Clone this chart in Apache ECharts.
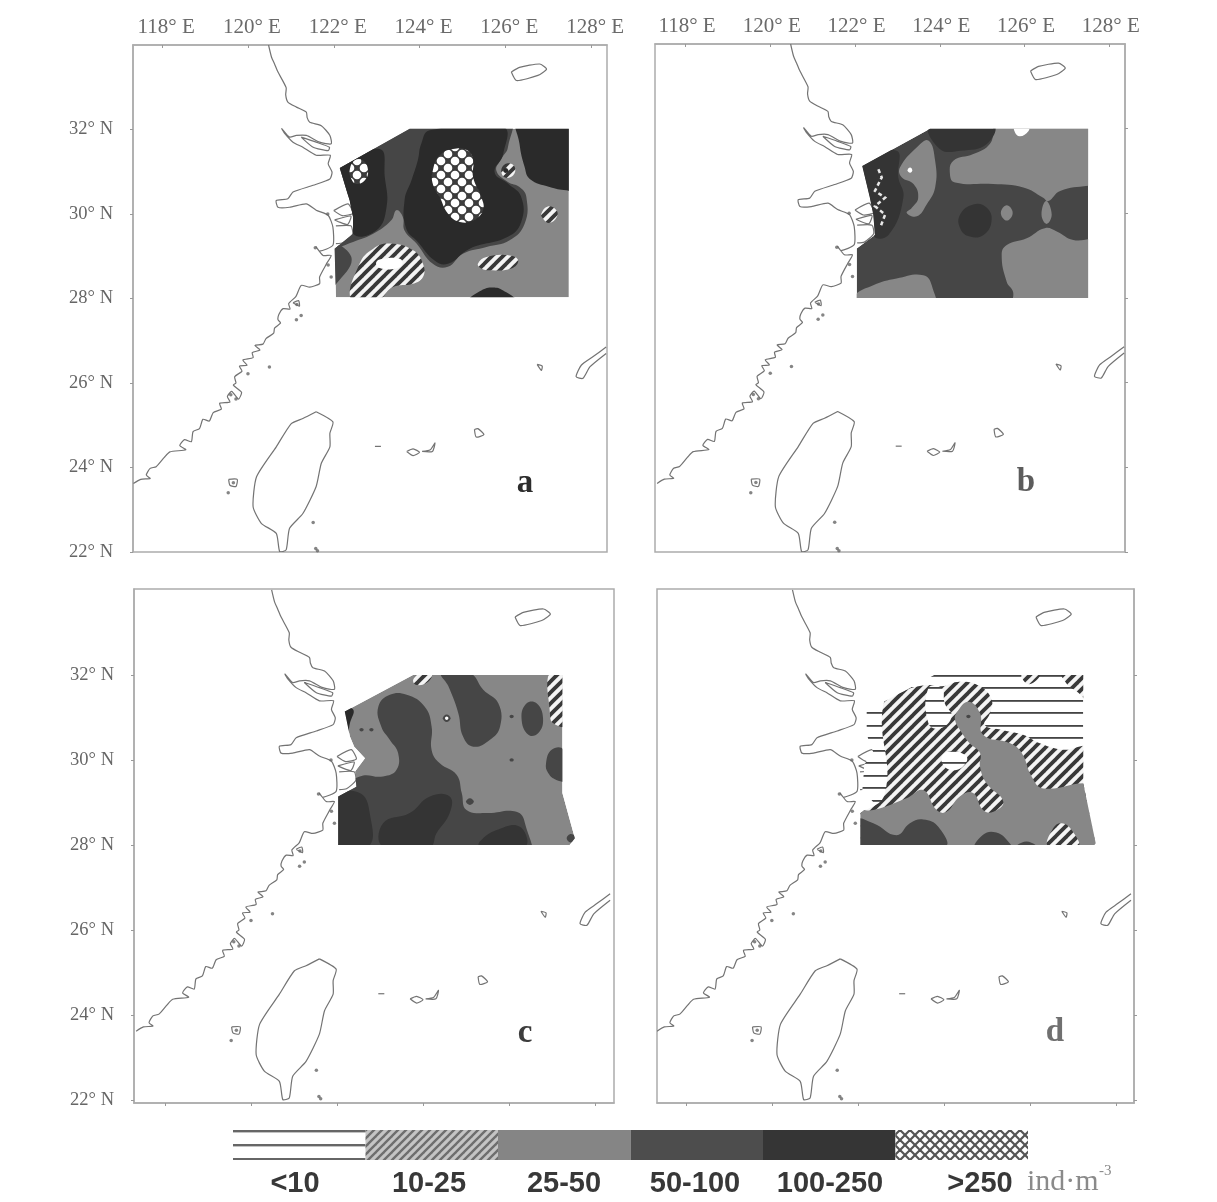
<!DOCTYPE html>
<html><head><meta charset="utf-8">
<style>html,body{margin:0;padding:0;background:#fff}#c{width:1217px;height:1202px;filter:blur(0.65px)}</style>
<script src="https://cdn.jsdelivr.net/npm/echarts@6/dist/echarts.min.js"></script>
</head><body><div id="c"></div>
<script>
// ---------- tick labels and legend ----------
const lonTicks=[118,120,122,124,126,128];
const latTicks=[22,24,26,28,30,32];
const bandNames=['<10','10-25','25-50','50-100','100-250','>250'];

// ---------- geography (lon, lat) ----------
const coastMain=[[120.48,34.0],[120.55,33.71],[120.62,33.55],[120.70,33.36],[120.89,32.99],[120.88,32.82],[120.93,32.65],[121.13,32.53],[121.36,32.41],[121.38,32.28],[121.44,32.17],[121.71,32.09],[121.91,31.86],[121.94,31.66],[121.67,31.70],[121.36,31.86],[121.13,31.86],[120.97,31.82],[120.79,32.02],[120.86,31.90],[121.05,31.70],[121.28,31.58],[121.59,31.39],[121.92,31.39],[121.87,31.19],[121.96,30.99],[121.91,30.83],[121.52,30.68],[121.05,30.52],[120.93,30.36],[120.66,30.32],[120.70,30.16],[120.97,30.16],[121.36,30.24],[121.59,30.09],[121.87,29.97],[121.98,29.69],[121.98,29.26],[121.67,29.12],[121.59,29.22],[121.75,29.02],[121.94,29.02],[121.83,28.82],[121.67,28.51],[121.67,28.35],[121.44,28.27],[121.24,28.31],[121.12,28.05],[120.95,27.88],[120.98,27.75],[120.82,27.76],[120.72,27.62],[120.70,27.50],[120.76,27.42],[120.62,27.30],[120.60,27.18],[120.42,27.05],[120.35,26.92],[120.16,26.89],[120.28,26.78],[120.10,26.72],[120.12,26.60],[119.88,26.54],[119.98,26.42],[119.80,26.40],[119.86,26.28],[119.69,26.15],[119.72,26.0],[119.66,25.95],[119.85,25.78],[119.78,25.62],[119.62,25.80],[119.52,25.68],[119.58,25.55],[119.34,25.52],[119.38,25.38],[119.19,25.30],[119.10,25.10],[118.95,25.14],[118.87,24.92],[118.72,24.85],[118.68,24.61],[118.52,24.66],[118.41,24.52],[118.55,24.42],[118.18,24.37],[118.05,24.24],[117.86,24.02],[117.72,23.98],[117.63,23.82],[117.72,23.74],[117.50,23.72],[117.33,23.62]];
const chongming=[[121.24,31.82],[121.59,31.70],[121.90,31.58],[121.87,31.50],[121.52,31.58],[121.24,31.82]];
const zhoushan1=[[122.0,30.08],[122.33,30.24],[122.45,30.02],[122.2,29.96],[122.0,30.08]];
const zhoushan2=[[122.02,29.86],[122.4,29.95],[122.32,29.75],[122.02,29.86]];
const zhoushan3=[[122.05,29.72],[122.4,29.72],[122.44,29.52],[122.22,29.32],[122.05,29.3]];
const taiwan=[[121.59,25.32],[121.98,25.08],[121.91,24.81],[121.91,24.49],[121.71,24.10],[121.59,23.55],[121.28,22.91],[120.97,22.56],[120.89,22.05],[120.74,22.01],[120.66,22.44],[120.31,22.68],[120.12,23.07],[120.20,23.78],[120.66,24.49],[121.01,25.04],[121.28,25.16],[121.59,25.32]];
const jeju=[[126.14,33.36],[126.33,33.47],[126.80,33.55],[126.96,33.43],[126.76,33.28],[126.26,33.16],[126.14,33.36]];
const okinawa=[[128.35,26.85],[128.04,26.62],[127.77,26.42],[127.65,26.15],[127.81,26.11],[127.97,26.38],[128.35,26.70]];
const isletA=[[126.74,26.44],[126.86,26.40],[126.84,26.30],[126.74,26.44]];
const isletB=[[123.70,24.38],[123.85,24.44],[124.00,24.36],[123.85,24.28],[123.70,24.38]];
const isletC=[[124.06,24.38],[124.25,24.42],[124.36,24.58],[124.30,24.38],[124.06,24.38]];
const isletD=[[125.28,24.90],[125.36,24.92],[125.50,24.78],[125.32,24.72],[125.28,24.90]];
const isletE=[[122.96,24.50],[123.10,24.50]];
const isletF=[[119.55,23.72],[119.75,23.72],[119.72,23.55],[119.58,23.58],[119.55,23.72]];
const isletL=[[121.05,27.90],[121.18,27.95],[121.20,27.82],[121.05,27.90]];
const coastLines=[coastMain,chongming,zhoushan1,zhoushan2,zhoushan3,taiwan,jeju,okinawa,isletA,isletB,isletC,isletD,isletE,isletF,isletL];
const coastDots=[[121.87,28.79],[121.94,28.51],[121.24,27.60],[121.13,27.50],[121.14,27.86],[120.50,26.38],[120.0,26.22],[119.72,25.62],[119.60,25.72],[119.54,23.40],[121.52,22.70],[121.58,22.08],[121.62,22.03],[119.66,23.64],[121.57,29.20],[121.86,30.0]];

// ---------- panel a contours (lon, lat) ----------
const aOutline=[[122.05,28.03],[122.02,29.18],[122.45,29.53],[122.45,29.93],[122.37,30.32],[122.14,31.09],[123.77,32.02],[127.48,32.02],[127.48,28.03]];
const aDark=[[121.67,32.29],[126.06,32.29],[126.06,31.58],[125.91,31.31],[125.79,31.03],[126.06,30.76],[126.33,30.64],[126.49,30.40],[126.45,29.77],[126.10,29.38],[125.56,29.22],[125.01,29.06],[124.66,28.75],[124.31,28.82],[123.93,29.30],[123.65,29.61],[123.61,29.93],[123.46,30.09],[123.34,29.85],[122.92,29.53],[122.45,29.34],[121.98,29.18],[121.67,29.18]];
const aWedge=[[121.83,29.30],[122.41,28.98],[122.06,28.35],[121.83,28.27]];
const aRight=[[126.30,32.29],[127.89,32.29],[127.89,30.52],[127.42,30.56],[127.03,30.64],[126.57,30.83],[126.45,31.11],[126.33,31.66]];
const aCore=[[124.04,31.66],[124.24,31.98],[125.95,32.06],[125.95,31.42],[125.75,30.99],[126.06,30.72],[126.37,30.40],[126.37,29.81],[126.06,29.46],[125.17,29.18],[124.66,28.82],[124.35,28.90],[123.96,29.34],[123.69,29.65],[123.65,30.32],[123.81,30.79],[123.96,31.27]];
const aLeft=[[122.10,31.03],[123.07,31.54],[123.19,30.87],[123.23,30.16],[122.99,29.61],[122.45,29.53],[122.37,30.32]];
const aCross1=[[124.31,31.03],[124.47,31.39],[124.78,31.54],[125.13,31.50],[125.25,31.27],[125.25,30.87],[125.44,30.40],[125.48,30.09],[125.25,29.85],[124.94,29.81],[124.66,30.01],[124.47,30.40],[124.31,30.71]];
const aCross2=[[122.37,31.03],[122.49,31.27],[122.68,31.27],[122.80,31.03],[122.72,30.79],[122.53,30.71],[122.41,30.83]];
const aHatch1=[[125.91,31.07],[126.06,31.20],[126.22,31.11],[126.18,30.91],[125.98,30.87]];
const aDot=[[125.95,31.03],[126.01,31.09],[126.07,31.03],[126.01,30.97]];
const aHatch2=[[126.84,30.01],[126.99,30.18],[127.19,30.09],[127.20,29.93],[127.03,29.79],[126.88,29.89]];
const aHatch3=[[122.41,27.96],[122.60,28.82],[122.92,29.18],[123.30,29.30],[123.85,29.14],[124.08,28.82],[124.08,28.51],[123.85,28.35],[123.38,28.27],[123.03,27.96]];
const aLow=[[122.99,28.86],[123.15,28.94],[123.54,28.94],[123.60,28.82],[123.46,28.71],[123.07,28.72]];
const aHatch4=[[125.36,28.82],[125.56,28.98],[126.10,29.02],[126.30,28.90],[126.14,28.71],[125.63,28.67],[125.44,28.71]];
const aBottom=[[125.17,27.96],[125.44,28.19],[125.71,28.26],[125.95,28.19],[126.22,27.96]];

// ---------- panel b contours ----------
const bOutline=[[122.04,28.0],[122.04,29.17],[122.47,29.49],[122.43,29.97],[122.35,30.37],[122.17,31.12],[123.77,32.0],[127.5,32.0],[127.5,28.0]];
const bMid1=[[125.26,32.36],[125.26,32.0],[125.18,31.64],[124.79,31.40],[124.32,31.24],[124.24,30.92],[124.36,30.73],[125.26,30.69],[125.97,30.61],[126.44,30.37],[126.56,30.29],[126.84,30.53],[127.50,30.65],[127.94,30.69],[127.94,32.36]];
const bMid2=[[125.46,29.02],[125.58,29.25],[126.05,29.41],[126.48,29.65],[126.76,29.57],[127.15,29.37],[127.94,29.33],[127.94,27.66],[125.73,27.66],[125.73,28.14],[125.58,28.38]];
const bMid3=[[125.44,30.01],[125.58,30.19],[125.72,30.01],[125.58,29.83]];
const bMid4=[[126.40,29.97],[126.51,30.29],[126.64,29.97],[126.52,29.75]];
const bMid5=[[121.96,28.02],[122.43,28.30],[122.98,28.46],[123.61,28.54],[123.81,28.30],[123.85,27.66],[121.96,27.66]];
const bMid6=[[123.06,31.08],[123.46,31.56],[123.73,31.72],[123.89,31.24],[123.89,30.61],[123.69,30.21],[123.46,29.93],[123.22,30.01],[123.34,30.13],[123.49,30.37],[123.38,30.69],[123.10,30.85]];
const bSpot=[[123.24,31.02],[123.30,31.08],[123.35,31.02],[123.30,30.96]];
const bNotch=[[125.77,32.08],[125.77,31.92],[125.89,31.82],[126.09,31.94],[126.09,32.08]];
const bCore1=[[124.48,29.97],[124.79,30.21],[125.11,30.13],[125.22,29.81],[125.03,29.49],[124.71,29.45],[124.48,29.65]];
const bCore2=[[122.12,31.16],[122.98,31.48],[123.02,30.85],[123.14,30.37],[122.79,29.49],[122.43,29.49]];
const bCore3=[[123.77,32.08],[125.26,32.08],[125.11,31.64],[124.48,31.48],[124.0,31.52]];
const bIslands=[[122.55,31.04],[122.63,30.85],[122.47,30.53],[122.71,30.37],[122.47,30.17],[122.71,29.97],[122.59,29.65]];

// ---------- panel c contours ----------
const cOutline=[[122.03,28.0],[122.03,29.14],[122.45,29.37],[122.42,29.73],[122.65,30.04],[122.40,30.31],[122.30,30.55],[122.18,31.14],[123.77,32.0],[127.24,32.0],[127.24,29.22],[127.53,28.16],[127.41,28.0]];
const cDark=[[121.91,29.14],[122.53,29.61],[123.07,29.61],[123.38,29.76],[123.42,30.16],[123.23,30.47],[123.03,30.78],[122.96,31.25],[123.23,31.53],[123.62,31.53],[124.04,31.25],[124.20,30.78],[124.20,30.23],[124.39,29.92],[124.78,29.65],[124.90,29.22],[125.01,28.82],[125.48,28.75],[126.17,28.78],[126.37,28.51],[126.41,27.72],[121.91,27.72]];
const cCore1=[[123.07,28.51],[123.69,28.75],[124.16,29.14],[124.62,29.14],[124.62,28.75],[124.31,28.27],[124.16,27.96],[123.07,27.96]];
const cCore2=[[122.0,29.14],[122.53,29.22],[122.76,28.75],[122.73,27.96],[121.91,27.96]];
const cCore3=[[125.32,28.08],[125.71,28.35],[126.25,28.43],[126.37,27.96],[125.32,27.96]];
const cBlob1=[[124.43,32.04],[125.09,32.04],[125.40,31.65],[125.75,31.33],[125.79,30.78],[125.55,30.47],[125.17,30.31],[124.93,30.55],[124.82,31.10],[124.59,31.73]];
const cBlob2=[[126.29,30.98],[126.41,31.33],[126.64,31.33],[126.79,30.98],[126.68,30.63],[126.45,30.59]];
const cBlob3=[[126.86,29.92],[126.99,30.24],[127.26,30.24],[127.34,29.53],[127.10,29.53],[126.91,29.69]];
const cHatch1=[[126.95,32.10],[127.34,32.10],[127.34,30.82],[127.03,30.86],[126.95,31.10]];
const cHatch2=[[123.77,31.88],[123.93,32.04],[124.2,32.04],[124.12,31.84],[123.85,31.76]];
const cWedge=[[122.14,31.18],[122.38,31.18],[122.30,30.86],[122.24,30.55]];
const cDots=[
 [[125.00,29.02],[125.09,29.10],[125.18,29.02],[125.09,28.94]],
 [[126.01,31.02],[126.06,31.06],[126.11,31.02],[126.06,30.98]],
 [[126.01,30.00],[126.06,30.04],[126.11,30.00],[126.06,29.96]],
 [[124.46,30.98],[124.55,31.07],[124.64,30.98],[124.55,30.89]],
 [[122.52,30.71],[122.57,30.75],[122.62,30.71],[122.57,30.67]],
 [[122.75,30.71],[122.80,30.75],[122.85,30.71],[122.80,30.67]],
 [[127.34,28.16],[127.44,28.26],[127.56,28.16],[127.44,28.06]]];
const cRing=[[124.51,30.98],[124.55,31.02],[124.59,30.98],[124.55,30.94]];

// ---------- panel d contours ----------
const dOutline=[[122.06,28.0],[122.06,28.75],[122.36,29.0],[122.1,29.3],[122.15,29.9],[122.35,30.2],[122.2,30.6],[122.2,31.15],[123.77,32.0],[127.24,32.0],[127.24,29.45],[127.53,28.04],[127.5,28.0]];
const dHatch1=[[121.97,28.67],[122.63,29.22],[122.59,31.29],[123.05,31.61],[123.60,31.76],[123.95,31.73],[124.37,31.84],[124.84,31.73],[125.11,31.41],[125.07,31.10],[124.95,30.82],[125.38,30.70],[125.84,30.59],[126.23,30.39],[126.77,30.24],[127.36,30.27],[127.36,29.14],[121.97,28.59]];
const dMid=[[124.29,31.10],[124.57,31.37],[124.84,31.10],[124.91,30.59],[125.54,30.39],[125.81,30.16],[126.04,29.61],[126.31,29.33],[127.26,29.45],[127.78,29.37],[127.78,27.73],[121.89,27.73],[121.89,28.78],[122.36,28.82],[123.13,29.10],[123.52,29.29],[123.83,28.82],[124.06,28.78],[124.37,29.14],[124.68,29.22],[124.91,28.82],[125.15,28.78],[125.38,29.02],[124.99,29.45],[124.84,29.84],[124.84,30.16],[124.60,30.39],[124.37,30.71],[124.26,30.94]];
const dLow1=[[123.64,31.69],[123.95,31.69],[124.02,31.33],[124.18,31.02],[123.91,30.74],[123.64,30.86]];
const dLow2=[[123.95,30.08],[124.14,30.2],[124.49,30.12],[124.53,29.96],[124.29,29.76],[124.02,29.84]];
const dDark1=[[121.97,28.59],[122.36,28.51],[122.90,28.23],[123.21,28.51],[123.52,28.60],[123.87,28.43],[124.02,27.96],[121.97,27.88]];
const dDark2=[[124.72,27.88],[124.91,28.24],[125.22,28.29],[125.53,28.04],[125.57,27.88]];
const dDark3=[[125.69,27.96],[125.92,28.08],[126.15,27.96]];
const dHatch2=[[126.43,27.96],[126.54,28.39],[126.74,28.51],[126.97,28.35],[127.12,27.96]];
const dHatch3=[[126.74,32.08],[127.36,32.08],[127.36,31.41],[127.09,31.61],[126.85,31.80]];
const dHatch4=[[125.81,32.04],[126.23,32.04],[126.11,31.84],[125.92,31.80]];
const dDot=[[124.52,31.02],[124.57,31.06],[124.62,31.02],[124.57,30.98]];

// ---------- panels: which band each contour belongs to ----------
const panelA=[['25-50',aOutline],['50-100',aDark],['50-100',aWedge],['100-250',aRight],['100-250',aCore],['100-250',aLeft],['>250',aCross1],['>250',aCross2],['10-25',aHatch1],['100-250',aDot],['10-25',aHatch2],['10-25',aHatch3],['blank',aLow],['10-25',aHatch4],['100-250',aBottom]];
const panelB=[['50-100',bOutline],['25-50',bMid1],['25-50',bMid2],['25-50',bMid3],['25-50',bMid4],['25-50',bMid5],['25-50',bMid6],['blank',bSpot],['blank',bNotch],['deep',bCore1],['deep',bCore2],['deep',bCore3]];
const panelC=[['25-50',cOutline],['50-100',cDark],['deep',cCore1],['deep',cCore2],['deep',cCore3],['50-100',cBlob1],['50-100',cBlob2],['50-100',cBlob3],['10-25',cHatch1],['10-25',cHatch2],['100-250',cWedge],...cDots.map(d=>['50-100',d]),['blank',cRing]];
const panelD=[['<10',dOutline],['10-25',dHatch1],['25-50',dMid],['<10',dLow1],['<10',dLow2],['50-100',dDark1],['50-100',dDark2],['50-100',dDark3],['10-25',dHatch2],['10-25',dHatch3],['10-25',dHatch4],['50-100',dDot]];

// ---------- hatch tiles ----------
function tile(w,h,bg,draw){const t=document.createElement('canvas');t.width=w;t.height=h;const g=t.getContext('2d');g.fillStyle=bg;g.fillRect(0,0,w,h);draw(g);return {image:t,repeat:'repeat'};}
function diagonal(g,s,col,lw){g.strokeStyle=col;g.lineWidth=lw;g.lineCap='square';for(const o of [-s,0,s]){g.beginPath();g.moveTo(o,s);g.lineTo(o+s,0);g.stroke();}}
function backDiagonal(g,s,col,lw){g.strokeStyle=col;g.lineWidth=lw;g.lineCap='square';for(const o of [-s,0,s]){g.beginPath();g.moveTo(o,0);g.lineTo(o+s,s);g.stroke();}}
function dots(g,w,h,r){g.fillStyle='#ffffff';for(const [x,y] of [[0,0],[w,0],[0,h],[w,h],[w/2,h/2]]){g.beginPath();g.arc(x,y,r,0,7);g.fill();}}
const mapFill={
 'blank':'#ffffff',
 '<10':tile(12,25,'#ffffff',g=>{g.fillStyle='#444';g.fillRect(0,0,12,1.8);g.fillRect(0,12,12,1.8);}),
 '10-25':tile(11,11,'#f4f4f4',g=>diagonal(g,11,'#383838',3.8)),
 '25-50':'#878787',
 '50-100':'#464646',
 '100-250':'#2a2a2a',
 'deep':'#343434',
 '>250':tile(14,14,'#3c3c3c',g=>dots(g,14,14,4.3))
};
const legendFill=[
 tile(12,14,'#ffffff',g=>{g.fillStyle='#666666';g.fillRect(0,10,12,2.4);}),
 tile(8,8,'#c4c4c4',g=>diagonal(g,8,'#6e6e6e',2.4)),
 '#858585','#4d4d4d','#353535',
 tile(10,10,'#ffffff',g=>{diagonal(g,10,'#555555',2.2);backDiagonal(g,10,'#555555',2.2);})
];

// ---------- layout of the four maps ----------
const frames=[
 {left:133,top:45,width:474,height:507,x:[117.32,128.37],y:[22,34],topLabels:true,labelShift:8,leftLabels:true,shapes:panelA,outline:aOutline,letter:'a'},
 {left:655,top:44,width:470,height:508,x:[117.28,128.37],y:[22,34],topLabels:true,labelShift:3,leftLabels:false,shapes:panelB,outline:bOutline,letter:'b'},
 {left:134,top:589,width:480,height:514,x:[117.28,128.44],y:[21.93,34.02],topLabels:false,labelShift:0,leftLabels:true,shapes:panelC,outline:cOutline,letter:'c'},
 {left:657,top:589,width:477,height:514,x:[117.33,128.42],y:[21.93,34.02],topLabels:false,labelShift:0,leftLabels:false,shapes:panelD,outline:dOutline,letter:'d'}
];
const grid=[],xAxis=[],yAxis=[],series=[];
const serif='"Liberation Serif","DejaVu Serif",serif', sans='"Liberation Sans",Arial,sans-serif';
frames.forEach((f,i)=>{
 grid.push({left:f.left,top:f.top,width:f.width,height:f.height,show:true,borderColor:'#acacac',borderWidth:1.5,backgroundColor:'#fff'});
 xAxis.push({type:'value',gridIndex:i,min:f.x[0],max:f.x[1],position:f.topLabels?'top':'bottom',splitLine:{show:false},
  axisLine:{lineStyle:{color:'#acacac',width:1.5}},
  axisTick:{show:true,length:3,inside:f.topLabels,lineStyle:{color:'#999'},customValues:lonTicks},
  axisLabel:{show:f.topLabels,customValues:lonTicks,formatter:v=>v+'° E',margin:7,padding:[0,0,0,f.labelShift],fontFamily:serif,fontSize:21,color:'#6a6a6a'}});
 yAxis.push({type:'value',gridIndex:i,min:f.y[0],max:f.y[1],position:f.leftLabels?'left':'right',splitLine:{show:false},
  axisLine:{lineStyle:{color:'#acacac',width:1.5}},
  axisTick:{show:true,length:3,lineStyle:{color:'#999'},customValues:latTicks},
  axisLabel:{show:f.leftLabels,customValues:latTicks,formatter:v=>v+'° N',margin:20,fontFamily:serif,fontSize:18.5,color:'#666'}});
 series.push({type:'custom',xAxisIndex:i,yAxisIndex:i,clip:true,silent:true,z:2,animation:false,
  data:coastLines.map(l=>l[0]),
  renderItem:(p,api)=>({type:'polyline',shape:{points:coastLines[p.dataIndex].map(q=>api.coord(q)),smooth:0.2},style:{fill:null,stroke:'#737373',lineWidth:1.2}})});
 series.push({type:'scatter',xAxisIndex:i,yAxisIndex:i,silent:true,z:2,animation:false,data:coastDots,symbolSize:3.5,itemStyle:{color:'#666'}});
 series.push({type:'custom',xAxisIndex:i,yAxisIndex:i,clip:true,silent:true,z:3,animation:false,
  data:f.shapes.map(s=>s[1][0]),
  renderItem:(p,api)=>{const s=f.shapes[p.dataIndex];const isOutline=s[1]===f.outline;
   return {type:'polygon',shape:{points:s[1].map(q=>api.coord(q)),smooth:isOutline?0:0.45},
    style:{fill:mapFill[s[0]],stroke:null},
    clipPath:{type:'polygon',shape:{points:f.outline.map(q=>api.coord(q))}}};}});
});
// the white island traces over panel b
series.push({type:'custom',xAxisIndex:1,yAxisIndex:1,silent:true,z:4,animation:false,data:[bIslands[0]],
 renderItem:(p,api)=>({type:'polyline',shape:{points:bIslands.map(q=>api.coord(q))},style:{fill:null,stroke:'#e8e8e8',lineWidth:2.5,lineDash:[4,3]}})});

// ---------- legend bar ----------
grid.push({left:233,top:1130,width:795,height:30,show:false});
xAxis.push({type:'category',gridIndex:4,data:bandNames,axisLine:{show:false},axisTick:{show:false},axisLabel:{show:false}});
yAxis.push({type:'value',gridIndex:4,min:0,max:1,show:false});
series.push({type:'bar',xAxisIndex:4,yAxisIndex:4,barWidth:'100%',silent:true,animation:false,
 data:bandNames.map((n,i)=>({value:1,itemStyle:{color:legendFill[i]}}))});

const legendCentres=[295,429,564,695,830,980];
const letterPos=[[525,483,'#2c2c2c'],[1026,482,'#5c5c5c'],[525,1033,'#3c3c3c'],[1055,1032,'#707070']];
const graphic=[
 ...bandNames.map((n,i)=>({type:'text',x:legendCentres[i],y:1184,style:{text:n,font:'bold 29px '+sans,fill:'#383838',align:'center',verticalAlign:'middle'}})),
 {type:'text',x:1027,y:1182,style:{text:'ind·m',font:'30px '+serif,fill:'#8a8a8a',align:'left',verticalAlign:'middle'}},
 {type:'text',x:1099,y:1171,style:{text:'-3',font:'15px '+serif,fill:'#8a8a8a',align:'left',verticalAlign:'middle'}},
 ...frames.map((f,i)=>({type:'text',x:letterPos[i][0],y:letterPos[i][1],style:{text:f.letter,font:'bold 33px '+serif,fill:letterPos[i][2],align:'center',verticalAlign:'middle'}}))
];

const chart=echarts.init(document.getElementById('c'),null,{renderer:'canvas'});
chart.setOption({animation:false,backgroundColor:'#fff',grid,xAxis,yAxis,series,graphic});
</script></body></html>
